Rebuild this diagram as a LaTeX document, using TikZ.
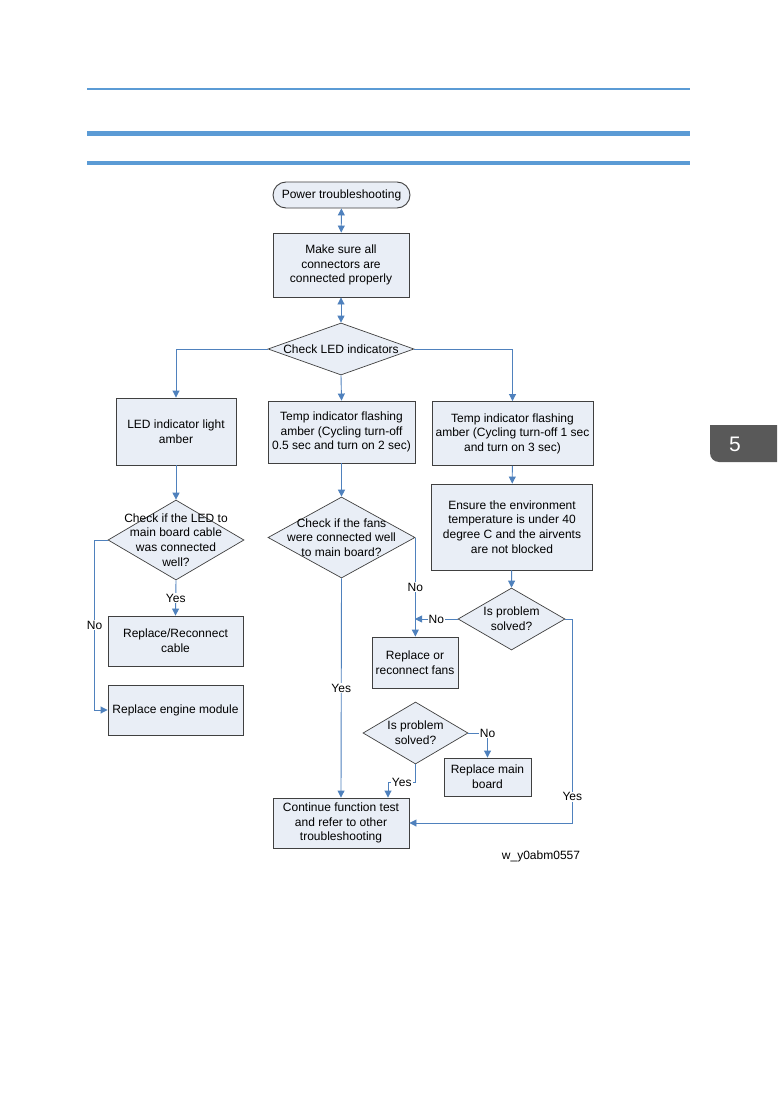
\documentclass[tikz,border=0pt]{standalone}
\usepackage{fontspec}
\setmainfont{Liberation Sans}
\usetikzlibrary{shapes.geometric,arrows.meta}
\definecolor{flow}{RGB}{79,129,189}
\definecolor{rulecol}{RGB}{91,155,213}
\definecolor{boxfill}{RGB}{233,238,246}
\definecolor{boxedge}{RGB}{64,64,64}
\definecolor{tabcol}{RGB}{89,89,89}
\begin{document}
\begin{tikzpicture}[x=1pt,y=-1pt,
  font=\fontsize{12}{14.6}\selectfont,
  stepbox/.style={draw=boxedge, fill=boxfill, line width=0.9pt, align=center, inner sep=1pt},
  decide/.style={diamond, draw=boxedge, fill=boxfill, line width=0.7pt, inner sep=0pt},
  dtext/.style={align=center, inner sep=0pt},
  conn/.style={draw=flow, line width=0.9pt},
  arr/.style={conn, -{Triangle[length=7pt,width=7pt]}},
  darr/.style={conn, {Triangle[length=7pt,width=7pt]}-{Triangle[length=7pt,width=7pt]}},
  lab/.style={fill=white, inner sep=1pt, text=black}]
\useasboundingbox (0,0) rectangle (777,1102);
\fill[white] (0,0) rectangle (777,1102);

% header rules
\draw[rulecol, line width=2pt] (87,89) -- (690,89);
\draw[rulecol, line width=5pt] (87,134) -- (690,134);
\draw[rulecol, line width=4pt] (87,163) -- (690,163);

% chapter tab
\fill[tabcol] (777,425) -- (710,425) [rounded corners=9pt] -- (710,462) [sharp corners] -- (777,462) -- cycle;
\node[text=white, font=\fontsize{21}{21}\selectfont] (tab) at (735,444) {5};

% nodes
\node[stepbox, rounded corners=13pt, minimum width=137pt, minimum height=26pt] (start) at (341.5,195) {Power troubleshooting};
\node[stepbox, minimum width=136pt, minimum height=64pt] (make) at (341,265) {Make sure all\\connectors are\\connected properly};
\node[decide, minimum width=146pt, minimum height=52pt] (chk) at (341,349) {};
\node[dtext] at (chk) {Check LED indicators};

\node[stepbox, minimum width=120pt, minimum height=67pt] (led) at (176,431.5) {LED indicator light\\amber};
\node[stepbox, minimum width=147pt, minimum height=62pt] (tmid) at (341.5,432) {Temp indicator flashing\\amber (Cycling turn-off\\0.5 sec and turn on 2 sec)};
\node[stepbox, minimum width=161pt, minimum height=64pt] (trgt) at (512.5,433.5) {Temp indicator flashing\\amber (Cycling turn-off 1 sec\\and turn on 3 sec)};

\node[decide, minimum width=136pt, minimum height=80pt] (cled) at (176,540) {};
\node[dtext] at (176,540) {Check if the LED to\\main board cable\\was connected\\well?};
\node[decide, minimum width=147pt, minimum height=81pt] (cfan) at (341.5,537.5) {};
\node[dtext] at (341.5,537.5) {Check if the fans\\were connected well\\to main board?};
\node[stepbox, minimum width=161pt, minimum height=86pt] (env) at (512,527) {Ensure the environment\\temperature is under 40\\degree C and the airvents\\are not blocked};

\node[stepbox, minimum width=135pt, minimum height=50pt] (rep1) at (175.5,641) {Replace/Reconnect\\cable};
\node[stepbox, minimum width=135pt, minimum height=50pt] (eng) at (175.5,710) {Replace engine module};

\node[decide, minimum width=107pt, minimum height=62pt] (ips1) at (511.5,619) {};
\node[dtext] at (511.5,619) {Is problem\\solved?};
\node[stepbox, minimum width=86pt, minimum height=51pt] (fans) at (415,662.5) {Replace or\\reconnect fans};
\node[decide, minimum width=105pt, minimum height=62pt] (ips2) at (415.5,733) {};
\node[dtext] at (415.5,733) {Is problem\\solved?};
\node[stepbox, minimum width=87pt, minimum height=38pt] (mainb) at (487.5,777) {Replace main\\board};
\node[stepbox, minimum width=136pt, minimum height=50pt] (cont) at (341,823) {Continue function test\\and refer to other\\troubleshooting};

\node (cap) at (541,856) {w\_y0abm0557};

% connectors
\draw[darr] (start) -- (make);
\draw[darr] (make) -- (chk);
\draw[arr] (chk.west) -| (led.north);
\draw[arr] (chk.south) -- (tmid.north);
\draw[arr] (chk.east) -| (trgt.north);
\draw[arr] (led) -- (cled.north);
\draw[arr] (tmid) -- (cfan.north);
\draw[arr] (trgt) -- (env);
\draw[arr] (env) -- (ips1.north);

\draw[arr] (cled.south) -- node[lab]{Yes} (rep1.north);
\draw[arr] (cled.west) -- ++(-13,0) |- node[lab,pos=0.25]{No} (eng.west);

\draw[arr] (cfan.east) -- node[lab]{No} (cfan.east |- fans.north);
\draw[arr] (cfan.south) -- node[lab]{Yes} (cont.north);

\draw[arr] (ips1.west) -- node[lab]{No} (ips1.west -| fans.north);
\draw[arr] (ips1.east) -- ++(7,0) |- node[lab,pos=0.436]{Yes} (cont.east);

\draw[arr] (ips2.east) -| node[lab,pos=0.5]{No} (mainb.north);
\coordinate (yk) at (388,782);
\draw[arr] (ips2.south) |- node[lab,pos=0.75]{Yes} (yk) -- (yk |- cont.north);
\end{tikzpicture}
\end{document}
